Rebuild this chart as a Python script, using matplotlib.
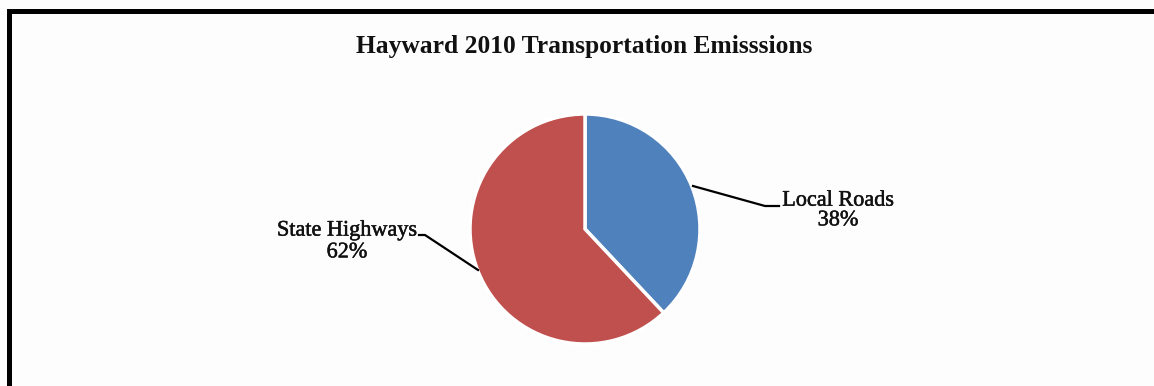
import matplotlib
matplotlib.use("Agg")
import matplotlib.pyplot as plt
from matplotlib.lines import Line2D
import matplotlib.patheffects as pe

title = "Hayward 2010 Transportation Emisssions"
categories = ["Local Roads", "State Highways"]
values = [38, 62]
colors = ["#4F81BD", "#C0504D"]

W, H = 1154, 386
fig = plt.figure(figsize=(W / 100, H / 100), dpi=100)
fig.patch.set_facecolor("#FDFDFD")
ax = fig.add_axes([0, 0, 1, 1])

cx, cy, r = 585, H - 229, 115
wedges, _ = ax.pie(values, colors=colors, startangle=90, counterclock=False,
                   center=(cx, cy), radius=r, frame=True,
                   wedgeprops=dict(edgecolor="white", linewidth=2.5))
ax.set_xlim(0, W)
ax.set_ylim(0, H)
ax.set_aspect("auto")
ax.axis("off")

serif = ["Liberation Serif", "DejaVu Serif"]
thick = [pe.withStroke(linewidth=0.35, foreground="#111111")]

ax.text(584, H - 47, title, ha="center", va="center", fontsize=18.4,
        fontweight="bold", family=serif, color="#111111")

# State Highways label + leader
ax.text(347, H - 242, f"{categories[1]}\n{values[1]}%", ha="center", va="center",
        fontsize=16, family=serif, color="#111111", linespacing=1.2,
        path_effects=thick)
ax.add_line(Line2D([419, 425, 478], [H - 235, H - 235, H - 270], color="black", lw=1.6))

# Local Roads label + leader
ax.text(838, H - 211, f"{categories[0]}\n{values[0]}%", ha="center", va="center",
        fontsize=16, family=serif, color="#111111", linespacing=1.05,
        path_effects=thick)
ax.add_line(Line2D([693, 765, 779], [H - 186, H - 206, H - 206], color="black", lw=1.6))

# border (left and top)
ax.add_line(Line2D([9, 9, W], [0, H - 10.5, H - 10.5], color="black", lw=3.6,
                   solid_joinstyle="miter", solid_capstyle="butt"))

fig.savefig("out.png", dpi=100, facecolor=fig.get_facecolor())
